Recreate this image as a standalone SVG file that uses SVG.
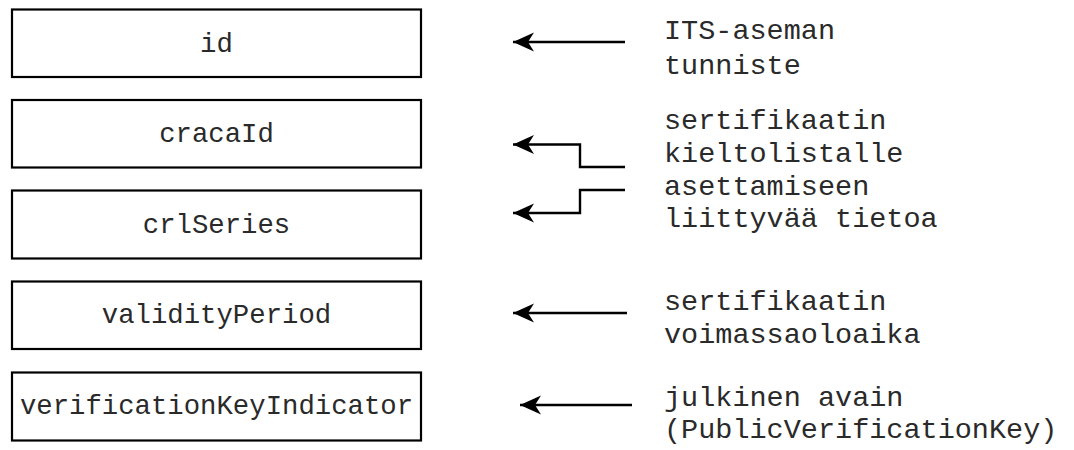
<svg xmlns="http://www.w3.org/2000/svg" width="1074" height="450" viewBox="0 0 1074 450">
<style>
.box{fill:#fff;stroke:#000;stroke-width:2.2}
.lbl{font-family:"Liberation Mono","Courier New",monospace;font-size:27.3px;fill:#2a2a2a;text-anchor:middle}
.note{font-family:"Liberation Mono","Courier New",monospace;font-size:28.5px;fill:#2a2a2a}
.conn{fill:none;stroke:#000;stroke-width:2.4}
</style>
<defs>
<marker id="ah" markerUnits="userSpaceOnUse" markerWidth="24" markerHeight="24" viewBox="0 0 24 24" refX="23" refY="12" orient="auto">
<path d="M23,12 L2,2.5 L8,12 L2,21.5 Z" fill="#000"/>
</marker>
</defs>
<rect width="1074" height="450" fill="#fff"/>
<g id="node-id"><rect class="box" x="12" y="9.5" width="409" height="67.5"/><text class="lbl" x="216.5" y="52">id</text></g>
<g id="node-cracaId"><rect class="box" x="12" y="100" width="409" height="67.5"/><text class="lbl" x="216.5" y="142">cracaId</text></g>
<g id="node-crlSeries"><rect class="box" x="12" y="190.5" width="409" height="68"/><text class="lbl" x="216.5" y="233">crlSeries</text></g>
<g id="node-validityPeriod"><rect class="box" x="12" y="281.5" width="409" height="67.5"/><text class="lbl" x="216.5" y="323">validityPeriod</text></g>
<g id="node-verificationKeyIndicator"><rect class="box" x="12" y="372.5" width="409" height="68"/><text class="lbl" x="216.5" y="414">verificationKeyIndicator</text></g>
<g id="note-id"><text class="note" x="664" y="39">ITS-aseman</text><text class="note" x="664" y="74">tunniste</text></g>
<g id="note-crl"><text class="note" x="664" y="129">sertifikaatin</text><text class="note" x="664" y="161.5">kieltolistalle</text><text class="note" x="664" y="194.5">asettamiseen</text><text class="note" x="664" y="227">liittyvää tietoa</text></g>
<g id="note-validity"><text class="note" x="664" y="310">sertifikaatin</text><text class="note" x="664" y="342.5">voimassaoloaika</text></g>
<g id="note-key"><text class="note" x="664" y="406">julkinen avain</text><text class="note" x="664" y="438">(PublicVerificationKey)</text></g>
<g id="connectors">
<path class="conn" d="M625,42 H513" marker-end="url(#ah)"/>
<path class="conn" d="M625,167 H580 V144.5 H513" marker-end="url(#ah)"/>
<path class="conn" d="M625,190 H580 V213 H513" marker-end="url(#ah)"/>
<path class="conn" d="M627,313 H513" marker-end="url(#ah)"/>
<path class="conn" d="M632,405 H520" marker-end="url(#ah)"/>
</g>
</svg>
